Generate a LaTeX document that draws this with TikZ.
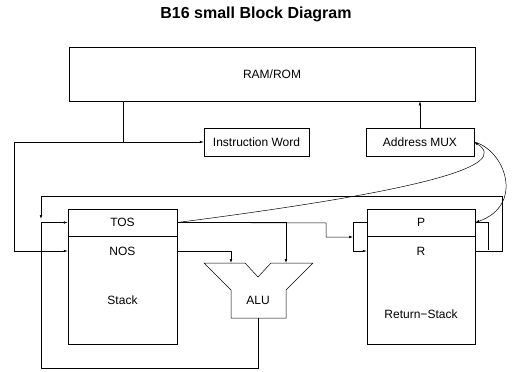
\documentclass[tikz,border=0pt]{standalone}
\usepackage{fontspec}
\setmainfont{Liberation Sans}
\usetikzlibrary{arrows.meta}

\begin{document}
\begin{tikzpicture}[x=1pt, y=-1pt, line width=0.5pt,
    >={Latex[length=4pt,width=2.6pt]},
    box/.style={draw, inner sep=0pt, font=\fontsize{12}{14}\selectfont},
    lbl/.style={inner sep=0pt, font=\fontsize{12}{14}\selectfont}]
    \useasboundingbox (0,0) rectangle (512,372);

    % Draw title
    \node[font=\bfseries\fontsize{16}{18}\selectfont] (title) at (256,14) {B16 small Block Diagram};

    % Draw memory and fetch blocks
    \node[box, minimum width=406pt, minimum height=54pt] (ram) at (272,74) {RAM/ROM};
    \node[box, minimum width=105pt, minimum height=28pt] (iw) at (256.5,142) {Instruction Word};
    \node[box, minimum width=108pt, minimum height=28pt] (mux) at (420,142) {Address MUX};

    % Draw data stack
    \node[box, minimum width=109pt, minimum height=27pt] (tos) at (122.5,222.5) {TOS};
    \node[box, minimum width=109pt, minimum height=108pt] (stk) at (122.5,290) {};
    \node[lbl] (nos) at (122.5,251) {NOS};
    \node[lbl] (stklbl) at (122.5,300) {Stack};

    % Draw return stack
    \node[box, minimum width=108pt, minimum height=27pt] (p) at (421,222.5) {P};
    \node[box, minimum width=108pt, minimum height=108pt] (rbody) at (421,290) {};
    \node[lbl] (r) at (421,251) {R};
    \node[lbl] (rslbl) at (421,314) {Return−Stack};

    % Draw ALU
    \draw (204,263) -- (245,263) -- (258,277) -- (271,263) -- (313,263)
        -- (286,290) -- (286,318) -- (231,318) -- (231,290) -- cycle;
    \node[lbl] (alu) at (258,300) {ALU};
    \coordinate (alua) at (231,263);
    \coordinate (alub) at (286,263);
    \coordinate (aluo) at (258,318);

    % Corner points of the wires
    \coordinate (split) at (123,142);
    \coordinate (lft) at (14,142);
    \coordinate (join) at (41,223);
    \coordinate (bot) at (41,368);
    \coordinate (loopne) at (502,196);
    \coordinate (kink) at (326,223);
    \coordinate (mx) at (353,237);
    \coordinate (rp) at (488,250);

    % Draw memory lines
    \draw (ram.south -| split) -- (split);
    \draw[->] (split) -- (iw.west);
    \draw[->] (split) -- (lft) |- (stk.west |- nos);
    \draw[->] (mux.north) -- (ram.south -| mux.north);

    % Draw stack lines
    \draw[->] (stk.east |- nos) -| (alua);
    \draw[->] (tos.east) -| (alub);
    \draw[->] (tos.east) -- (kink) |- (mx);
    \draw (p.west) -| (mx);
    \draw[->] (mx) |- (rbody.west |- r);
    \draw[->] (rbody.east |- r) -| (loopne) -| ([yshift=4pt]join);
    \draw[->] (aluo) |- (bot) |- (tos.west);
    \draw (rp) |- (p.east);

    % Draw address curves
    \draw[->] (tos.east) .. controls (430,190) and (510,165) .. (mux.east);
    \draw[->] (mux.east) .. controls (505,150) and (525,205) .. (p.east);
\end{tikzpicture}
\end{document}
